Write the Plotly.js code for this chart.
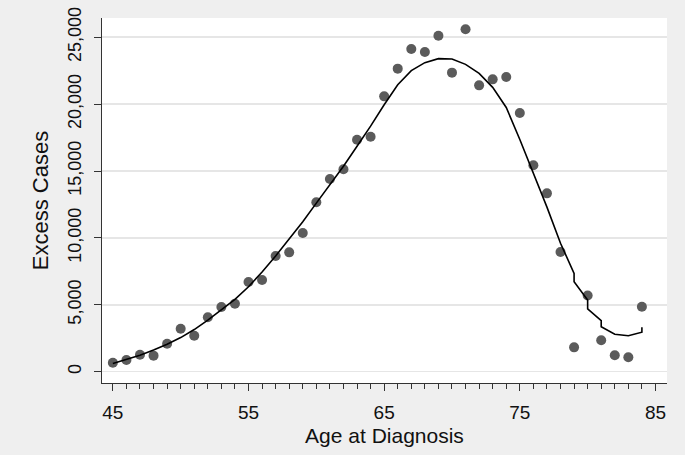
<!DOCTYPE html>
<html>
<head>
<meta charset="utf-8">
<script src="https://cdn.plot.ly/plotly-3.0.1.min.js"></script>
<style>html,body{margin:0;padding:0;background:#efefef;}#chart{width:685px;height:455px;}</style>
</head>
<body>
<div id="chart"></div>
<script>
// Observed excess cases by age at diagnosis
const ages = [45,46,47,48,49,50,51,52,53,54,55,56,57,58,59,60,61,62,63,64,65,66,67,68,69,70,71,72,73,74,75,76,77,78,79,80,81,82,83,84];
const excessCases = [670,870,1270,1200,2090,3210,2690,4070,4840,5080,6700,6850,8650,8920,10370,12660,14400,15130,17340,17560,20580,22650,24120,23890,25110,22350,25590,21400,21850,22030,19340,15430,13330,8950,1820,5700,2350,1230,1080,4860];

// Smoothed fit line (repeated ages give the small vertical steps)
const fitAges = [45,46,47,48,49,50,51,52,53,54,55,56,57,58,59,60,61,62,63,64,65,66,67,68,69,70,71,72,73,74,75,76,77,78,79,79,80,80,81,81,82,83,84,84];
const fitValues = [620,900,1230,1620,2050,2550,3150,3850,4600,5400,6350,7450,8650,9900,11200,12600,13950,15350,16850,18350,19950,21450,22500,23100,23400,23370,22970,22300,21250,19750,17350,14850,12300,9600,7350,6730,5360,4690,3810,3360,2800,2690,2950,3320];

// Axis ticks
const xTickVals = [45,55,65,75,85];
const xTickText = ["45","55","65","75","85"];
const yTickVals = [0,5000,10000,15000,20000,25000];
const yTickText = ["0","5,000","10,000","15,000","20,000","25,000"];

const font = "Liberation Sans, Arial, Helvetica, sans-serif";

const traces = [
  {
    x: ages, y: excessCases, type: 'scatter', mode: 'markers',
    marker: {color: '#5b5b5b', size: 10, line: {width: 0}},
    hoverinfo: 'skip', showlegend: false
  },
  {
    x: fitAges, y: fitValues, type: 'scatter', mode: 'lines',
    line: {color: '#000000', width: 1.6},
    hoverinfo: 'skip', showlegend: false
  }
];

const layout = {
  width: 685, height: 455,
  paper_bgcolor: '#efefef',
  plot_bgcolor: '#ffffff',
  margin: {l: 102, r: 18, t: 18, b: 72, pad: 0},
  showlegend: false,
  font: {family: font, color: '#111111'},
  xaxis: {
    range: [44.2, 85.85],
    tickmode: 'array', tickvals: xTickVals, ticktext: xTickText,
    ticks: 'outside', ticklen: 7, tickwidth: 1, tickcolor: '#333333',
    ticklabelstandoff: 5,
    minor: {tick0: 45, dtick: 1, ticks: 'outside', ticklen: 5, tickwidth: 1, tickcolor: '#333333', showgrid: false},
    showline: true, linecolor: '#333333', linewidth: 1,
    showgrid: false, zeroline: false,
    tickfont: {size: 19, family: font, color: '#111111'},
    title: {text: 'Age at Diagnosis', font: {size: 21, family: font, color: '#111111'}, standoff: 6},
    automargin: false
  },
  yaxis: {
    range: [-845, 26435],
    tickmode: 'array', tickvals: yTickVals, ticktext: yTickText,
    tickangle: -90,
    ticks: 'outside', ticklen: 7, tickwidth: 1, tickcolor: '#333333',
    ticklabelstandoff: 6,
    showline: true, linecolor: '#333333', linewidth: 1,
    showgrid: true, gridcolor: '#e6e6e6', gridwidth: 1.5,
    zeroline: false,
    tickfont: {size: 18, family: font, color: '#111111'},
    title: {text: 'Excess Cases', font: {size: 22, family: font, color: '#111111'}, standoff: 10},
    automargin: false
  }
};

Plotly.newPlot('chart', traces, layout, {staticPlot: true, displayModeBar: false});
</script>
</body>
</html>
